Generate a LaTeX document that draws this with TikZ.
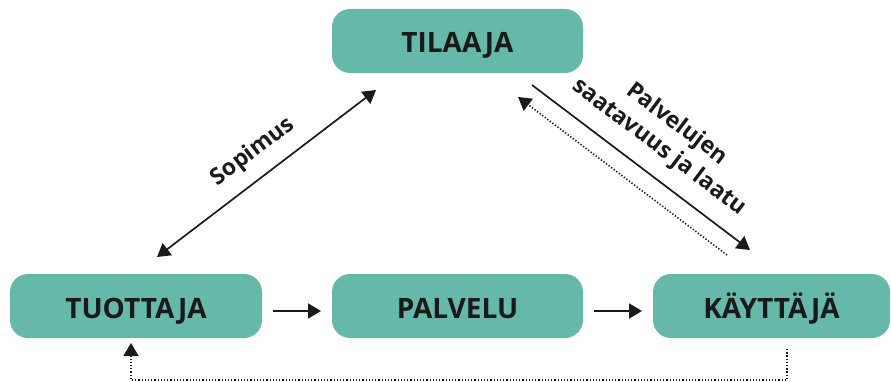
\documentclass[tikz,border=0pt]{standalone}
\usepackage{fontspec}
\setmainfont{Open Sans}
\usetikzlibrary{arrows.meta}
\definecolor{teal1}{HTML}{66B8A9}
\definecolor{ink}{HTML}{1A1A1A}
\begin{document}
\begin{tikzpicture}[x=1pt,y=-1pt,
  box/.style={fill=teal1, draw=none, rounded corners=18pt, minimum height=64pt, inner sep=0pt, text height=24pt, text depth=0pt, text=ink, font=\fontsize{28}{32}\selectfont\bfseries},
  tip/.style={-{Triangle[length=13pt,width=15pt]}},
  conn/.style={draw=ink, line width=1.7pt, tip},
  dots/.style={draw=ink, line width=1.6pt, dash pattern=on 1.3pt off 1.9pt},
  lbl/.style={text=ink, font=\fontsize{23}{29}\selectfont\bfseries, inner sep=0pt, align=center}]
\useasboundingbox (0,0) rectangle (891,382);
\node[box, minimum width=251pt] (til) at (457.5,41) {TILAAJA};
\node[box, minimum width=252pt] (tuo) at (136,306) {TUOTTAJA};
\node[box, minimum width=251pt] (pal) at (457.5,306) {PALVELU};
\node[box, minimum width=237pt] (kay) at (771.5,306) {KÄYTTÄJÄ};
% coordinates
\coordinate (s1) at (157,257);
\coordinate (s2) at (376,90);
\coordinate (r1) at (532,85);
\coordinate (r2) at (750,250);
\coordinate (d1) at (727,255);
\coordinate (d2) at (518,97);
\coordinate (h1) at (273,311);
\coordinate (h2) at (321,311);
\coordinate (h3) at (594,311);
\coordinate (h4) at (642,311);
\coordinate (b1) at (787,349);
\coordinate (b2) at (131,343);
% connectors
\draw[conn, {Triangle[length=13pt,width=15pt]}-{Triangle[length=13pt,width=15pt]}] (s1) -- (s2);
\draw[conn] (r1) -- (r2);
\draw[dots, tip] (d1) -- (d2);
\draw[conn] (h1) -- (h2);
\draw[conn] (h3) -- (h4);
\draw[dots, tip] (b1) |- (131,380) -- (b2);
% labels
\node[lbl, rotate=37] (sop) at (253,152) {Sopimus};
\node[lbl, rotate=-37] (pv) at (668,136) {Palvelujen\\saatavuus ja laatu};
\end{tikzpicture}
\end{document}
